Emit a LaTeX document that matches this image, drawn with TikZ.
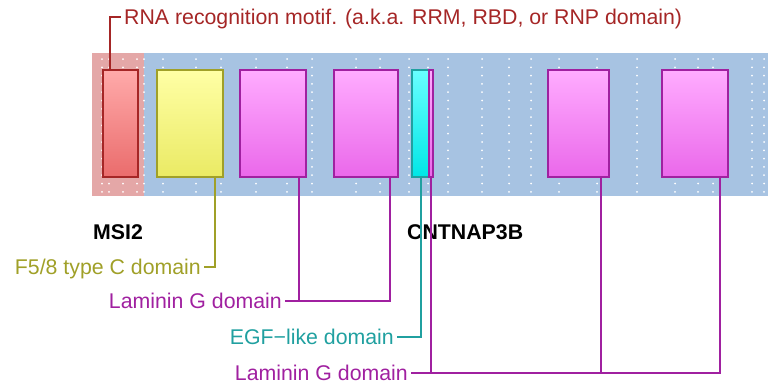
\documentclass[tikz,border=0pt]{standalone}
\usepackage{fontspec}
\setmainfont{Liberation Sans}
\usetikzlibrary{positioning, calc}

\definecolor{bandblue}{RGB}{167,195,226}
\definecolor{bandred}{RGB}{228,167,167}
\definecolor{rrmline}{RGB}{165,38,38}
\definecolor{fiveline}{RGB}{160,160,40}
\definecolor{lamline}{RGB}{160,32,160}
\definecolor{egfline}{RGB}{32,160,160}

\begin{document}
\begin{tikzpicture}[
        x=1pt, y=-1pt,
        box/.style={
            rectangle,
            draw,
            line width=1.8pt,
            minimum height=107pt,
            inner sep=0pt
        },
        rrmbox/.style={box, draw=rrmline, top color={rgb,255:red,255;green,170;blue,170}, bottom color={rgb,255:red,234;green,108;blue,108}},
        fivebox/.style={box, draw=fiveline, top color={rgb,255:red,255;green,255;blue,165}, bottom color={rgb,255:red,234;green,234;blue,100}},
        lambox/.style={box, draw=lamline, top color={rgb,255:red,255;green,172;blue,255}, bottom color={rgb,255:red,234;green,104;blue,234}},
        egfbox/.style={box, draw=egfline, top color={rgb,255:red,105;green,255;blue,255}, bottom color={rgb,255:red,0;green,230;blue,230}},
        lbl/.style={
            font=\fontsize{21.3}{25}\selectfont,
            text height=15pt,
            text depth=0pt,
            inner xsep=3pt,
            inner ysep=0pt
        },
        gene/.style={font=\fontsize{21.3}{25}\selectfont\bfseries, inner sep=0pt, anchor=base west},
        link/.style={line width=2pt}
    ]

        \useasboundingbox (0,0) rectangle (768,386);

        % Background band
        \fill[bandblue] (92,53) rectangle (768,196);
        \fill[bandred] (92,53) rectangle (144,196);

        % Dotted grid
        \foreach \x in {102,109,123,137,144,163,196,221,256,287,312,356,380,409,428,448,482,509,531,559,597,637,675,698,713,752,764}
            \foreach \k in {0,...,16}
                \fill[white] (\x, 59+\k*8.3) circle (1pt);

        % Domain boxes
        \node[rrmbox, minimum width=35pt] (rrm) at (120.5, 123.5) {};
        \node[fivebox, minimum width=66pt] (f58) at (190, 123.5) {};
        \node[lambox, minimum width=66pt] (lg1) at (273, 123.5) {};
        \node[lambox, minimum width=64pt] (lg2) at (366, 123.5) {};
        \node[egfbox, minimum width=17pt] (egf) at (420.5, 123.5) {};
        \node[lambox, minimum width=3.5pt, fill=lamline!85] (lg3) at (431, 123.5) {};
        \node[lambox, minimum width=61pt] (lg4) at (578.5, 123.5) {};
        \node[lambox, minimum width=66pt] (lg5) at (695, 123.5) {};

        % Gene names
        \node[gene] (msi) at (93, 239) {MSI2};
        \node[gene] (cnt) at (407, 239) {CNTNAP3B};

        % Labels
        \node[lbl, anchor=west, text=rrmline] (rrmtxt) at (121, 17) {RNA recognition motif. (a.k.a. RRM, RBD, or RNP domain)};
        \node[lbl, anchor=east, text=fiveline] (f58txt) at (204, 267) {F5/8 type C domain};
        \node[lbl, anchor=east, text=lamline] (lg1txt) at (285, 301) {Laminin G domain};
        \node[lbl, anchor=east, text=egfline] (egftxt) at (397, 337) {EGF−like domain};
        \node[lbl, anchor=east, text=lamline] (lg2txt) at (411, 373) {Laminin G domain};

        % Connectors
        \draw[link, rrmline] ([xshift=-10.5pt]rrm.north) |- (rrmtxt.west);
        \draw[link, fiveline] ([xshift=25pt]f58.south) |- (f58txt.east);
        \draw[link, lamline] ([xshift=26pt]lg1.south) |- (lg1txt.east);
        \draw[link, lamline] ([xshift=24pt]lg2.south) |- (lg1txt.east);
        \draw[link, egfline] (egf.south) |- (egftxt.east);
        \draw[link, lamline] (lg3.south) |- (lg2txt.east);
        \draw[link, lamline] ([xshift=22.5pt]lg4.south) |- (lg2txt.east);
        \draw[link, lamline] ([xshift=25pt]lg5.south) |- (lg2txt.east);

    \end{tikzpicture}
\end{document}
